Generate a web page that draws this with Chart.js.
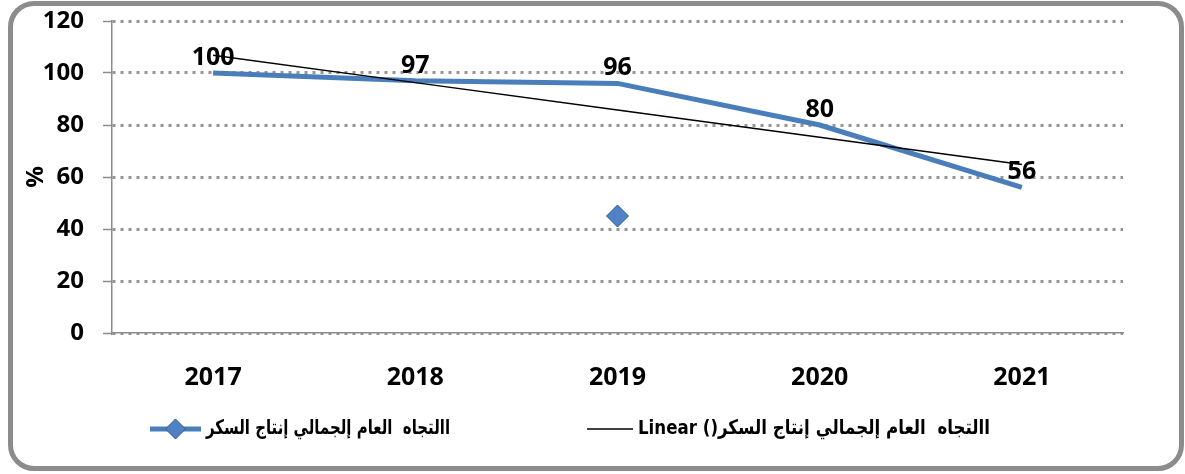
<!DOCTYPE html>
<html>
<head>
<meta charset="utf-8">
<script src="https://cdn.jsdelivr.net/npm/chart.js@4"></script>
<style>
  html, body { margin: 0; padding: 0; background: #fff; }
  #wrap { position: relative; width: 1185px; height: 474px; overflow: hidden; }
  #frame {
    position: absolute; left: 8px; top: 1px; width: 1176px; height: 470px;
    box-sizing: border-box; border: 5px solid #8c8c8c; border-radius: 26px;
  }
  #myChart { position: absolute; left: 0; top: 0; }
</style>
</head>
<body>
<div id="wrap">
  <div id="frame"></div>
  <canvas id="myChart" width="1185" height="474"></canvas>
</div>
<script>
// data
const years = ['2017', '2018', '2019', '2020', '2021'];
const sugarValues = [100, 97, 96, 80, 56];
const trendValues = [106.8, 96.3, 85.8, 75.3, 64.8];   // Excel linear trendline
const strayMarker = [null, null, 45, null, null];      // lone diamond under 2019
const seriesName = 'االتجاه  العام إلجمالي إنتاج السكر';
const trendName = 'االتجاه  العام إلجمالي إنتاج السكر() Linear';

const blue = '#4a7ebb';
const gridGray = '#8c8c8c';
const numFont = {family: "'Open Sans', 'Liberation Sans', sans-serif", size: 25, weight: 'bold'};

// value labels above the blue line
const valueLabels = {
    id: 'valueLabels',
    afterDatasetsDraw(chart) {
        const ctx = chart.ctx;
        const meta = chart.getDatasetMeta(1);
        ctx.save();
        ctx.font = 'bold 25px "Open Sans", sans-serif';
        ctx.fillStyle = '#000';
        ctx.textAlign = 'center';
        ctx.textBaseline = 'alphabetic';
        meta.data.forEach((pt, i) => {
            ctx.fillText(String(sugarValues[i]), pt.x, pt.y - 8);
        });
        ctx.restore();
    }
};

// legend under the axis (line + diamond sample, text drawn right-to-left)
const bottomLegend = {
    id: 'bottomLegend',
    afterDraw(chart) {
        const ctx = chart.ctx;
        const y = 429;
        ctx.save();
        // item 1
        ctx.strokeStyle = blue;
        ctx.lineWidth = 5;
        ctx.beginPath();
        ctx.moveTo(150, y);
        ctx.lineTo(201, y);
        ctx.stroke();
        ctx.fillStyle = '#4f81c4';
        ctx.strokeStyle = '#2f5b8f';
        ctx.lineWidth = 1;
        ctx.beginPath();
        ctx.moveTo(175.5, y - 10);
        ctx.lineTo(185.5, y);
        ctx.lineTo(175.5, y + 10);
        ctx.lineTo(165.5, y);
        ctx.closePath();
        ctx.fill();
        ctx.stroke();

        ctx.font = 'bold 20px "DejaVu Sans", sans-serif';
        ctx.fillStyle = '#000';
        ctx.textBaseline = 'middle';
        ctx.direction = 'rtl';
        ctx.textAlign = 'left';
        ctx.fillText(seriesName, 206, y, 244);

        // item 2
        ctx.strokeStyle = '#000';
        ctx.lineWidth = 1.5;
        ctx.beginPath();
        ctx.moveTo(587, y);
        ctx.lineTo(633, y);
        ctx.stroke();
        ctx.fillText(trendName, 638, y, 352);
        ctx.restore();
    }
};

new Chart(document.getElementById('myChart'), {
    type: 'line',
    data: {
        labels: years,
        datasets: [
            {
                label: 'Linear',
                data: trendValues,
                borderColor: '#000',
                borderWidth: 1.5,
                pointRadius: 0,
                order: 0
            },
            {
                label: seriesName,
                data: sugarValues,
                borderColor: blue,
                borderWidth: 5,
                pointRadius: 0,
                order: 1
            },
            {
                label: 'marker',
                data: strayMarker,
                showLine: false,
                pointStyle: 'rectRot',
                pointRadius: 11,
                backgroundColor: '#4f81c4',
                borderColor: '#2f5b8f',
                borderWidth: 1,
                order: 0
            }
        ]
    },
    options: {
        responsive: false,
        animation: false,
        layout: {padding: {top: 21, right: 62, left: 0, bottom: 0}},
        plugins: {
            legend: {display: false},
            tooltip: {enabled: false}
        },
        scales: {
            x: {
                offset: true,
                grid: {display: false},
                border: {display: true, color: gridGray, width: 1.5},
                ticks: {font: numFont, color: '#000', padding: 22},
                afterFit(scale) { scale.height = 141; }
            },
            y: {
                min: 0,
                max: 120,
                ticks: {stepSize: 20, font: {...numFont, size: 24}, color: '#000', padding: 19},
                grid: {
                    color: '#959595',
                    lineWidth: 3,
                    tickLength: 9,
                    tickWidth: 1.5,
                    tickColor: gridGray,
                    tickBorderDash: []
                },
                border: {display: true, color: gridGray, width: 1.5, dash: [3, 5]},
                title: {
                    display: true,
                    text: '%',
                    color: '#000',
                    font: {...numFont, size: 24},
                    padding: {top: 22, bottom: 0}
                },
                afterFit(scale) {
                    scale.width = 112;
                    scale.paddingTop = 0;
                    scale.paddingBottom = 0;
                }
            }
        }
    },
    plugins: [valueLabels, bottomLegend]
});
</script>
</body>
</html>
